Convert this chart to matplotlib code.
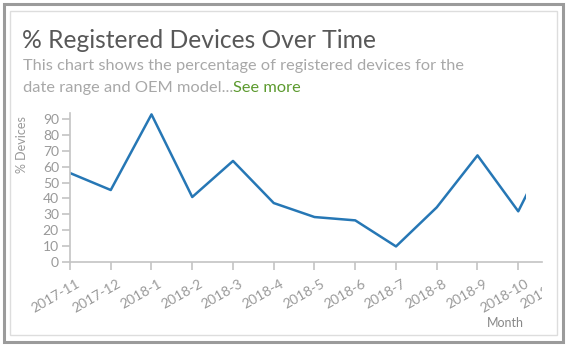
import matplotlib.pyplot as plt
from matplotlib.patches import Rectangle
from matplotlib.transforms import Bbox, ScaledTranslation

months = ["2017-11", "2017-12", "2018-1", "2018-2", "2018-3", "2018-4",
          "2018-5", "2018-6", "2018-7", "2018-8", "2018-9", "2018-10", "2018-11"]
pct_devices = [56, 45.3, 92.9, 40.9, 63.6, 37.1, 28.3, 26.2, 9.8, 34.4, 67.1, 31.9, 83]
y_ticks = [0, 10, 20, 30, 40, 50, 60, 70, 80, 90]

W, H = 570, 348
plt.rcParams["font.family"] = ["Lato", "DejaVu Sans"]

fig = plt.figure(figsize=(W / 100, H / 100), dpi=100)


def fx(px):
    return px / W


def fy(py):
    return 1 - py / H


# outer frame and card
fig.patches.append(Rectangle((fx(4), fy(342)), fx(563) - fx(4), fy(4) - fy(342),
                             transform=fig.transFigure, fill=False,
                             edgecolor="#9b9b9b", linewidth=2.2))
fig.patches.append(Rectangle((fx(10), fy(335)), fx(557) - fx(10), fy(11) - fy(335),
                             transform=fig.transFigure, fill=False,
                             edgecolor="#dddddd", linewidth=1.0))

fig.text(fx(22), fy(41), "% Registered Devices Over Time", fontsize=17.7,
         color="#585858", va="center")
fig.text(fx(23), fy(66), "This chart shows the percentage of registered devices for the",
         fontsize=11.8, color="#a8a8a8", va="center")
t = fig.text(fx(23), fy(88), "date range and OEM model...", fontsize=11.8,
             color="#a8a8a8", va="center")
fig.canvas.draw()
bb = t.get_window_extent()
fig.text(bb.x1 / fig.dpi / fig.get_figwidth(), fy(88), "See more", fontsize=11.8,
         color="#5c9a2e", va="center")

# plot area
x0, x1 = 70, 542
y0, y1 = 113, 262
ax = fig.add_axes([fx(x0), fy(y1), fx(x1) - fx(x0), fy(y0) - fy(y1)])
step = 40.75
xs = list(range(len(months)))
ax.set_xlim(0, (x1 - x0) / step)
ax.set_ylim(0, 90 * (y1 - y0) / (262 - 119))

line, = ax.plot(xs, pct_devices, color="#2677b5", linewidth=1.8)
line.set_clip_path(Rectangle((0, 0), 11.19, 100, transform=ax.transData))

for s in ["top", "right"]:
    ax.spines[s].set_visible(False)
for s in ["left", "bottom"]:
    ax.spines[s].set_color("#c4c4c4")
    ax.spines[s].set_linewidth(1.2)

ax.set_yticks(y_ticks)
ax.set_xticks(xs[:-1])
ax.set_xticklabels(months[:-1], rotation=30, ha="right", rotation_mode="anchor")
ax.tick_params(axis="both", colors="#c4c4c4", labelcolor="#999999",
               labelsize=10, length=6, width=1.2)
ax.tick_params(axis="x", pad=4)
ax.tick_params(axis="y", pad=2)

# shift rotated month labels so their top-right corner sits right of the tick
shift = ScaledTranslation(6 / 100, -2 / 100, fig.dpi_scale_trans)
for lbl in ax.get_xticklabels():
    lbl.set_transform(lbl.get_transform() + shift)

# last month label sits past the axis end and gets cut off
last = ax.text(len(months) - 1, 0, months[-1], rotation=30, ha="right",
               va="top", rotation_mode="anchor", fontsize=10, color="#999999",
               transform=ax.transData + ScaledTranslation(6 / 100, -12 / 100,
                                                          fig.dpi_scale_trans),
               clip_on=True)
last.set_clip_box(Bbox([[0, 0], [542, H]]))
last.set_clip_path(None)

fig.text(fx(22), fy(145), "% Devices", rotation=90, fontsize=9,
         color="#999999", ha="center", va="center")
fig.text(fx(505), fy(323), "Month", fontsize=9, color="#888888",
         ha="center", va="center")

fig.savefig("out.png", dpi=100)
